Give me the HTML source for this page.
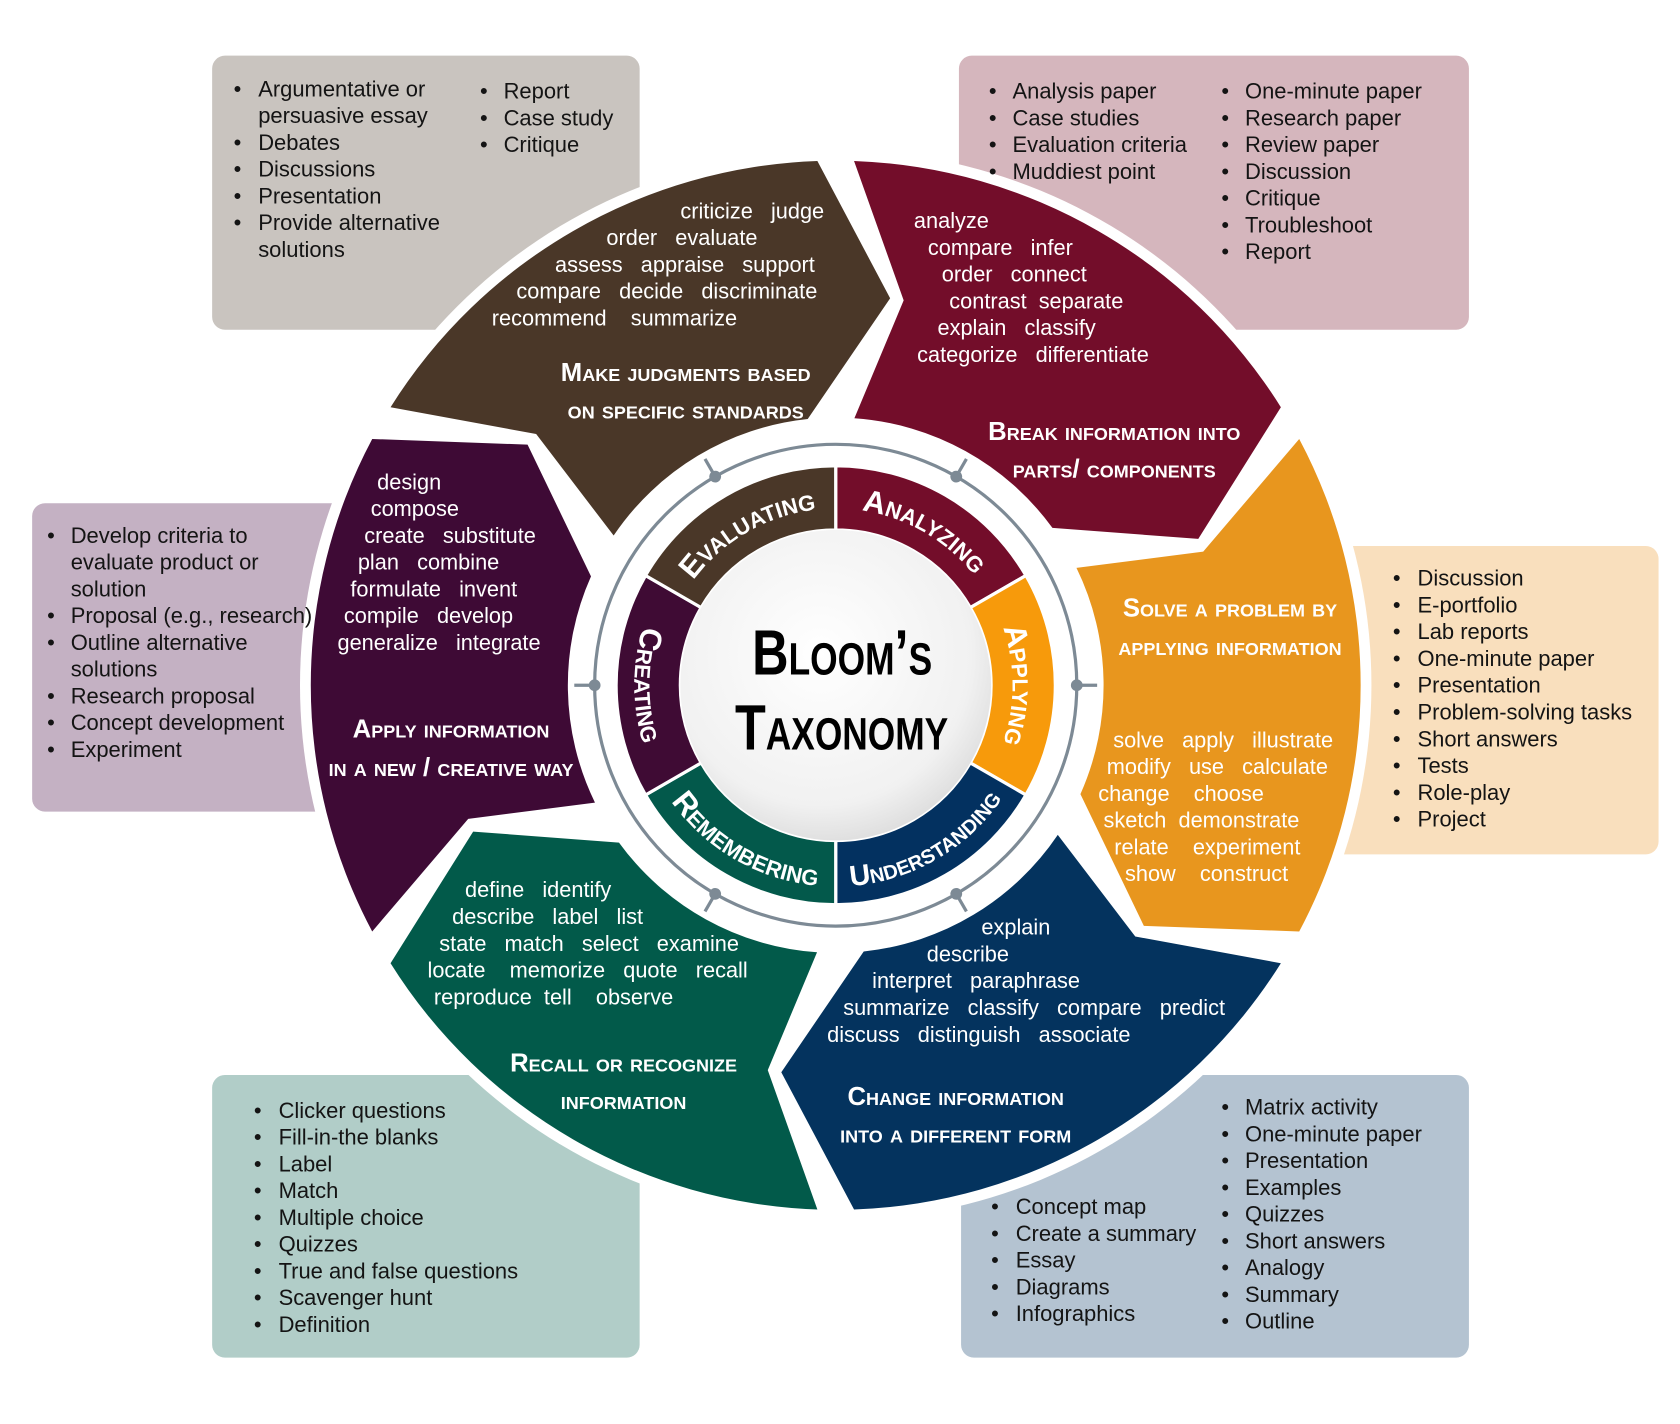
<!DOCTYPE html>
<html><head><meta charset="utf-8"><style>
html,body{margin:0;padding:0;background:#fff;}
svg{display:block;}
.b{font-family:"Liberation Sans",sans-serif;font-size:20.5px;fill:#141414;}
.v{font-family:"Liberation Sans",sans-serif;font-size:20.3px;fill:#fff;white-space:pre;}
.h{font-family:"Liberation Sans Narrow","Liberation Sans",sans-serif;font-weight:bold;font-size:24px;fill:#fff;font-variant:small-caps;text-anchor:middle;}
.r{font-family:"Liberation Sans Narrow","Liberation Sans",sans-serif;font-weight:bold;font-size:29px;fill:#fff;font-variant:small-caps;}
</style></head><body>
<svg width="1680" height="1424" viewBox="0 0 1568 1330" preserveAspectRatio="none" xmlns="http://www.w3.org/2000/svg">
<defs>
<path id="chev" d="M550.0,207.4 A490 490 0 0 1 1010.0,207.4 L1004.7,352.4 L881.7,411.6 A250 250 0 0 0 670.4,415.3 L655.2,297.0 Z"/>
<path id="seg" d="M780,435 A205 205 0 0 1 957.5,537.5 L905.6,567.5 A145 145 0 0 0 780,495 Z"/>
<radialGradient id="cg" cx="0.45" cy="0.4" r="0.65"><stop offset="0" stop-color="#ffffff"/><stop offset="0.75" stop-color="#f1f1f1"/><stop offset="1" stop-color="#d9d9d9"/></radialGradient>
<path id="pE" d="M637.1,557.5 A165 165 0 0 1 780,475"/>
<path id="pA" d="M780,475 A165 165 0 0 1 922.9,557.5"/>
<path id="pP" d="M922.9,557.5 A165 165 0 0 1 922.9,722.5"/>
<path id="pU" d="M780,828 A188 188 0 0 0 942.8,734"/>
<path id="pR" d="M617.2,734 A188 188 0 0 0 780,828"/>
<path id="pC" d="M617.2,546 A188 188 0 0 0 617.2,734"/>
<g id="tk"><line x1="780" y1="415" x2="780" y2="396"/><circle cx="780" cy="415" r="4"/></g>
</defs>
<rect width="1568" height="1330" fill="#fff"/>
<rect x="198" y="52" width="399" height="256" rx="12" fill="#c9c4bf"/>
<rect x="895" y="52" width="476" height="256" rx="12" fill="#d5b6bd"/>
<rect x="30" y="470" width="300" height="288" rx="12" fill="#c4b1c3"/>
<rect x="1232" y="510" width="316" height="288" rx="12" fill="#f9dfbd"/>
<rect x="198" y="1004" width="399" height="264" rx="12" fill="#b1cdc8"/>
<rect x="897" y="1004" width="474" height="264" rx="12" fill="#b4c3d1"/>
<circle cx="780" cy="640" r="500" fill="#fff"/>
<use href="#chev" fill="#4a3728" transform="rotate(-30 780 640)"/>
<use href="#chev" fill="#730d2a" transform="rotate(30 780 640)"/>
<use href="#chev" fill="#e8961e" transform="rotate(90 780 640)"/>
<use href="#chev" fill="#04335e" transform="rotate(150 780 640)"/>
<use href="#chev" fill="#025a4a" transform="rotate(210 780 640)"/>
<use href="#chev" fill="#3e0a35" transform="rotate(270 780 640)"/>
<circle cx="780" cy="640" r="246" fill="#fff"/>
<circle cx="780" cy="640" r="225" fill="none" stroke="#7d8a95" stroke-width="3"/>
<g stroke="#7d8a95" stroke-width="3" fill="#7d8a95">
<use href="#tk" transform="rotate(30 780 640)"/><use href="#tk" transform="rotate(90 780 640)"/>
<use href="#tk" transform="rotate(150 780 640)"/><use href="#tk" transform="rotate(210 780 640)"/>
<use href="#tk" transform="rotate(270 780 640)"/><use href="#tk" transform="rotate(330 780 640)"/>
</g>
<g stroke="#fff" stroke-width="3">
<use href="#seg" fill="#730d2a"/>
<use href="#seg" fill="#f79a0b" transform="rotate(60 780 640)"/>
<use href="#seg" fill="#033160" transform="rotate(120 780 640)"/>
<use href="#seg" fill="#03594b" transform="rotate(180 780 640)"/>
<use href="#seg" fill="#3f0b34" transform="rotate(240 780 640)"/>
<use href="#seg" fill="#4a3728" transform="rotate(300 780 640)"/>
</g>
<circle cx="780" cy="640" r="145" fill="url(#cg)"/>
<text class="r"><textPath href="#pE" startOffset="50%" text-anchor="middle">Evaluating</textPath></text>
<text class="r"><textPath href="#pA" startOffset="50%" text-anchor="middle">Analyzing</textPath></text>
<text class="r"><textPath href="#pP" startOffset="50%" text-anchor="middle">Applying</textPath></text>
<text class="r" style="font-size:27px"><textPath href="#pU" startOffset="50%" text-anchor="middle">Understanding</textPath></text>
<text class="r"><textPath href="#pR" startOffset="50%" text-anchor="middle">Remembering</textPath></text>
<text class="r"><textPath href="#pC" startOffset="50%" text-anchor="middle">Creating</textPath></text>
<text x="702" y="630" textLength="168" lengthAdjust="spacingAndGlyphs" style="font-family:'Liberation Sans Narrow','Liberation Sans',sans-serif;font-weight:bold;font-size:60px;font-variant:small-caps;fill:#000">Bloom’s</text>
<text x="686" y="700" textLength="199" lengthAdjust="spacingAndGlyphs" style="font-family:'Liberation Sans Narrow','Liberation Sans',sans-serif;font-weight:bold;font-size:60px;font-variant:small-caps;fill:#000">Taxonomy</text>
<g>
<text class="v" x="635" y="204">criticize   judge</text>
<text class="v" x="566" y="229">order   evaluate</text>
<text class="v" x="518" y="254">assess   appraise   support</text>
<text class="v" x="482" y="279">compare   decide   discriminate</text>
<text class="v" x="459" y="304">recommend    summarize</text>
<text class="v" x="853" y="213">analyze</text>
<text class="v" x="866" y="238">compare   infer</text>
<text class="v" x="879" y="263">order   connect</text>
<text class="v" x="886" y="288">contrast  separate</text>
<text class="v" x="875" y="313">explain   classify</text>
<text class="v" x="856" y="338">categorize   differentiate</text>
<text class="v" x="1039" y="698">solve   apply   illustrate</text>
<text class="v" x="1033" y="723">modify   use   calculate</text>
<text class="v" x="1025" y="748">change    choose</text>
<text class="v" x="1030" y="773">sketch  demonstrate</text>
<text class="v" x="1040" y="798">relate    experiment</text>
<text class="v" x="1050" y="823">show    construct</text>
<text class="v" x="916" y="873">explain</text>
<text class="v" x="865" y="898">describe</text>
<text class="v" x="814" y="923">interpret   paraphrase</text>
<text class="v" x="787" y="948">summarize   classify   compare   predict</text>
<text class="v" x="772" y="973">discuss   distinguish   associate</text>
<text class="v" x="434" y="838">define   identify</text>
<text class="v" x="422" y="863">describe   label   list</text>
<text class="v" x="410" y="888">state   match   select   examine</text>
<text class="v" x="399" y="913">locate    memorize   quote   recall</text>
<text class="v" x="405" y="938">reproduce  tell    observe</text>
<text class="v" x="352" y="457">design</text>
<text class="v" x="346" y="482">compose</text>
<text class="v" x="340" y="507">create   substitute</text>
<text class="v" x="334" y="532">plan   combine</text>
<text class="v" x="327" y="557">formulate   invent</text>
<text class="v" x="321" y="582">compile   develop</text>
<text class="v" x="315" y="607">generalize   integrate</text>
</g>
<text class="h" x="640" y="356">Make judgments based</text>
<text class="h" x="640" y="391">on specific standards</text>
<text class="h" x="1040" y="411">Break information into</text>
<text class="h" x="1040" y="446">parts/ components</text>
<text class="h" x="1148" y="576">Solve a problem by</text>
<text class="h" x="1148" y="612">applying information</text>
<text class="h" x="892" y="1032">Change information</text>
<text class="h" x="892" y="1067">into a different form</text>
<text class="h" x="582" y="1001">Recall or recognize</text>
<text class="h" x="582" y="1036">information</text>
<text class="h" x="421" y="689">Apply information</text>
<text class="h" x="421" y="725">in a new / creative way</text>
<g>
<text class="b" x="218" y="90"><tspan>•</tspan><tspan x="241">Argumentative or</tspan><tspan x="241" dy="25">persuasive essay</tspan><tspan x="218" dy="25">•</tspan><tspan x="241">Debates</tspan><tspan x="218" dy="25">•</tspan><tspan x="241">Discussions</tspan><tspan x="218" dy="25">•</tspan><tspan x="241">Presentation</tspan><tspan x="218" dy="25">•</tspan><tspan x="241">Provide alternative</tspan><tspan x="241" dy="25">solutions</tspan></text>
<text class="b" x="448" y="92"><tspan>•</tspan><tspan x="470">Report</tspan><tspan x="448" dy="25">•</tspan><tspan x="470">Case study</tspan><tspan x="448" dy="25">•</tspan><tspan x="470">Critique</tspan></text>
<text class="b" x="923" y="92"><tspan>•</tspan><tspan x="945">Analysis paper</tspan><tspan x="923" dy="25">•</tspan><tspan x="945">Case studies</tspan><tspan x="923" dy="25">•</tspan><tspan x="945">Evaluation criteria</tspan><tspan x="923" dy="25">•</tspan><tspan x="945">Muddiest point</tspan></text>
<text class="b" x="1140" y="92"><tspan>•</tspan><tspan x="1162">One-minute paper</tspan><tspan x="1140" dy="25">•</tspan><tspan x="1162">Research paper</tspan><tspan x="1140" dy="25">•</tspan><tspan x="1162">Review paper</tspan><tspan x="1140" dy="25">•</tspan><tspan x="1162">Discussion</tspan><tspan x="1140" dy="25">•</tspan><tspan x="1162">Critique</tspan><tspan x="1140" dy="25">•</tspan><tspan x="1162">Troubleshoot</tspan><tspan x="1140" dy="25">•</tspan><tspan x="1162">Report</tspan></text>
<text class="b" x="44" y="507"><tspan>•</tspan><tspan x="66">Develop criteria to</tspan><tspan x="66" dy="25">evaluate product or</tspan><tspan x="66" dy="25">solution</tspan><tspan x="44" dy="25">•</tspan><tspan x="66">Proposal (e.g., research)</tspan><tspan x="44" dy="25">•</tspan><tspan x="66">Outline alternative</tspan><tspan x="66" dy="25">solutions</tspan><tspan x="44" dy="25">•</tspan><tspan x="66">Research proposal</tspan><tspan x="44" dy="25">•</tspan><tspan x="66">Concept development</tspan><tspan x="44" dy="25">•</tspan><tspan x="66">Experiment</tspan></text>
<text class="b" x="1300" y="547"><tspan>•</tspan><tspan x="1323">Discussion</tspan><tspan x="1300" dy="25">•</tspan><tspan x="1323">E-portfolio</tspan><tspan x="1300" dy="25">•</tspan><tspan x="1323">Lab reports</tspan><tspan x="1300" dy="25">•</tspan><tspan x="1323">One-minute paper</tspan><tspan x="1300" dy="25">•</tspan><tspan x="1323">Presentation</tspan><tspan x="1300" dy="25">•</tspan><tspan x="1323">Problem-solving tasks</tspan><tspan x="1300" dy="25">•</tspan><tspan x="1323">Short answers</tspan><tspan x="1300" dy="25">•</tspan><tspan x="1323">Tests</tspan><tspan x="1300" dy="25">•</tspan><tspan x="1323">Role-play</tspan><tspan x="1300" dy="25">•</tspan><tspan x="1323">Project</tspan></text>
<text class="b" x="237" y="1044"><tspan>•</tspan><tspan x="260">Clicker questions</tspan><tspan x="237" dy="25">•</tspan><tspan x="260">Fill-in-the blanks</tspan><tspan x="237" dy="25">•</tspan><tspan x="260">Label</tspan><tspan x="237" dy="25">•</tspan><tspan x="260">Match</tspan><tspan x="237" dy="25">•</tspan><tspan x="260">Multiple choice</tspan><tspan x="237" dy="25">•</tspan><tspan x="260">Quizzes</tspan><tspan x="237" dy="25">•</tspan><tspan x="260">True and false questions</tspan><tspan x="237" dy="25">•</tspan><tspan x="260">Scavenger hunt</tspan><tspan x="237" dy="25">•</tspan><tspan x="260">Definition</tspan></text>
<text class="b" x="925" y="1134"><tspan>•</tspan><tspan x="948">Concept map</tspan><tspan x="925" dy="25">•</tspan><tspan x="948">Create a summary</tspan><tspan x="925" dy="25">•</tspan><tspan x="948">Essay</tspan><tspan x="925" dy="25">•</tspan><tspan x="948">Diagrams</tspan><tspan x="925" dy="25">•</tspan><tspan x="948">Infographics</tspan></text>
<text class="b" x="1140" y="1041"><tspan>•</tspan><tspan x="1162">Matrix activity</tspan><tspan x="1140" dy="25">•</tspan><tspan x="1162">One-minute paper</tspan><tspan x="1140" dy="25">•</tspan><tspan x="1162">Presentation</tspan><tspan x="1140" dy="25">•</tspan><tspan x="1162">Examples</tspan><tspan x="1140" dy="25">•</tspan><tspan x="1162">Quizzes</tspan><tspan x="1140" dy="25">•</tspan><tspan x="1162">Short answers</tspan><tspan x="1140" dy="25">•</tspan><tspan x="1162">Analogy</tspan><tspan x="1140" dy="25">•</tspan><tspan x="1162">Summary</tspan><tspan x="1140" dy="25">•</tspan><tspan x="1162">Outline</tspan></text>
</g>
</svg>
</body></html>
